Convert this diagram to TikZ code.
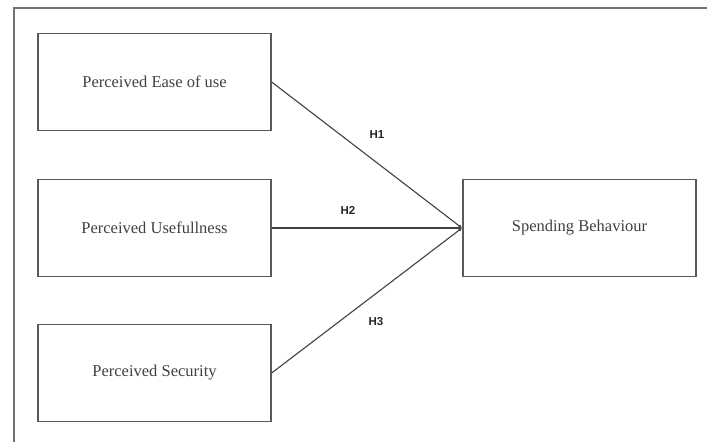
\documentclass[tikz,border=0pt]{standalone}
\usepackage{fontspec}
\setmainfont{Liberation Serif}
\newfontfamily\hfont{Liberation Sans}
\usetikzlibrary{arrows.meta}
\begin{document}
\begin{tikzpicture}[x=1pt,y=1pt,
  frameline/.style={draw=black!55,line width=1.6pt},
  varbox/.style={draw=black!65,line width=1.3pt,minimum width=233pt,minimum height=97pt,inner sep=0pt,font=\fontsize{16.5}{18}\selectfont,text=black!75},
  link/.style={draw=black!75,line width=1.1pt,-{Latex[length=3.5pt,width=3.5pt]}},
  hyp/.style={font=\hfont\bfseries\fontsize{11.5}{13}\selectfont,text=black!85}]
\useasboundingbox (0,0) rectangle (707,445);
\coordinate (ftl) at (14,437);
\coordinate (ftr) at (707,437);
\coordinate (fbl) at (14,3);
\draw[frameline] (ftr) -- (ftl) -- (fbl);
\node[varbox] (peou) at (154.5,363) {Perceived Ease of use};
\node[varbox] (pu) at (154.5,217) {Perceived Usefullness};
\node[varbox] (ps) at (154.5,72) {Perceived Security};
\node[varbox] (sb) at (579.5,217) {Spending Behaviour};
\coordinate (meet) at (462,217);
\draw[link] (peou.east) -- (meet);
\draw[link] (pu.east) -- (meet);
\draw[link] (ps.east) -- (meet);
\node[hyp] (h1) at (377,310) {H1};
\node[hyp] (h2) at (348,235) {H2};
\node[hyp] (h3) at (376,123) {H3};
\end{tikzpicture}
\end{document}
